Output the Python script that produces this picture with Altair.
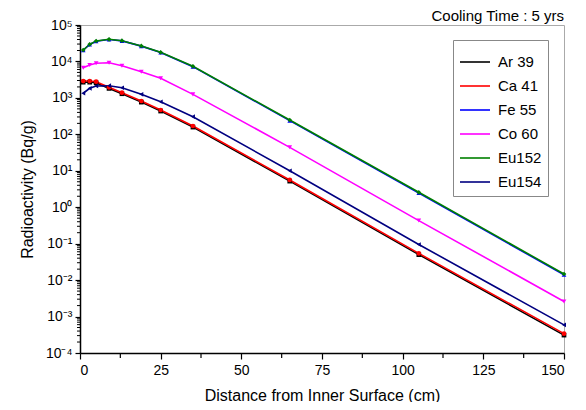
import altair as alt
import pandas as pd

distance = [1, 3, 5, 9, 13, 19, 25, 35, 65, 105, 150]
series_names = ["Ar 39", "Ca 41", "Fe 55", "Co 60", "Eu152", "Eu154"]
ar39 = [2700, 2700, 2600, 1820, 1300, 765, 435, 158, 5.2, 0.050, 0.00031]
ca41 = [2900, 2900, 2780, 1950, 1390, 820, 465, 169, 5.6, 0.054, 0.00034]
fe55 = [20300, 29200, 36000, 40000, 36700, 26300, 17500, 7200, 238, 2.45, 0.0140]
co60 = [6730, 7980, 8890, 9230, 7640, 5220, 3440, 1250, 44, 0.43, 0.0026]
eu152 = [20600, 29500, 36400, 40500, 37100, 26600, 17800, 7360, 247, 2.57, 0.0147]
eu154 = [1340, 1830, 2120, 2160, 1900, 1250, 785, 305, 10, 0.095, 0.00059]
colors = ["#000000", "#ff0000", "#0000ff", "#ff00ff", "#008000", "#000080"]
shapes = ["square", "circle", "triangle-up", "triangle-down", "diamond", "triangle-left"]

x_major = [0, 25, 50, 75, 100, 125, 150]
x_minor = [12.5, 37.5, 62.5, 87.5, 112.5, 137.5]
y_major = [1e-4, 1e-3, 1e-2, 1e-1, 1e0, 1e1, 1e2, 1e3, 1e4, 1e5]
y_minor = [m * 10.0 ** k for k in range(-4, 5) for m in range(2, 10)]

rows = []
for name, vals in zip(series_names, [ar39, ca41, fe55, co60, eu152, eu154]):
    for i, (d, v) in enumerate(zip(distance, vals)):
        rows.append({"series": name, "distance": d, "value": v, "idx": i})
df = pd.DataFrame(rows)

FONT = "Liberation Sans"
xscale = alt.Scale(domain=[0, 150], nice=False, zero=False)
yscale = alt.Scale(type="log", domain=[1e-4, 1e5], nice=False)
cscale = alt.Scale(domain=series_names, range=colors)

sup = "['\u207b\u2074','\u207b\u00b3','\u207b\u00b2','\u207b\u00b9','\u2070','\u00b9','\u00b2','\u00b3','\u2074','\u2075'][round(log(datum.value)/LN10)+4]"

base = alt.Chart(df)
lines = base.mark_line(strokeWidth=1.6).encode(
    x=alt.X("distance:Q", scale=xscale,
            axis=alt.Axis(title="Distance from Inner Surface (cm)", values=x_major,
                          grid=False, tickSize=6, tickWidth=1.2, labelPadding=4, titlePadding=10,
                          domainColor="#000000", tickColor="#000000", domainWidth=1.5)),
    y=alt.Y("value:Q", scale=yscale,
            axis=alt.Axis(title="Radioactivity (Bq/g)", values=y_major, grid=False,
                          tickSize=5, tickWidth=1.2, labelExpr="'10' + " + sup,
                          titlePadding=10, labelPadding=3,
                          domainColor="#000000", tickColor="#000000", domainWidth=1.5)),
    color=alt.Color("series:N", scale=cscale,
                    legend=alt.Legend(title=None, orient="none", legendX=373, legendY=15,
                                      symbolType="stroke", symbolStrokeWidth=1.6,
                                      symbolSize=900, labelFontSize=15, labelFont=FONT,
                                      labelColor="#000000", strokeColor="#888888",
                                      fillColor="#ffffff", padding=6, rowPadding=-4,
                                      labelOffset=7)),
    order="idx:Q",
)

point_layers = []
for name, col, shp in zip(series_names, colors, shapes):
    point_layers.append(
        base.transform_filter(alt.datum.series == name)
        .mark_point(filled=True, size=22, opacity=1, shape=shp, color=col)
        .encode(x=alt.X("distance:Q", scale=xscale), y=alt.Y("value:Q", scale=yscale))
    )

ytick_df = pd.DataFrame({"value": y_minor})
xtick_df = pd.DataFrame({"distance": x_minor})
y_minor_ticks = alt.Chart(ytick_df).mark_tick(color="#000000", orient="horizontal",
                                              size=3, thickness=1, opacity=1,
                                              clip=False).encode(
    y=alt.Y("value:Q", scale=yscale), x=alt.value(-1.5))
x_minor_ticks = alt.Chart(xtick_df).mark_tick(color="#000000", orient="vertical",
                                              size=5, thickness=1.2, opacity=1,
                                              clip=False).encode(
    x=alt.X("distance:Q", scale=xscale), y=alt.value(330.5))

chart = alt.layer(lines, *point_layers, y_minor_ticks, x_minor_ticks).properties(
    width=484, height=328,
    title=alt.TitleParams("Cooling Time : 5 yrs", anchor="end", frame="group", fontSize=15,
                          font=FONT, fontWeight="normal", offset=-6, color="#000000"),
    autosize=alt.AutoSizeParams(type="none"),
    padding={"left": 72, "top": 17, "right": 14, "bottom": 49},
).configure_view(stroke="#aaaaaa", strokeWidth=1).configure_axis(
    labelFont=FONT, titleFont=FONT, labelFontSize=14, titleFontSize=16,
    titleFontWeight="normal", labelColor="#000000", titleColor="#000000"
)

chart.save("out.html", embed_options={"renderer": "svg", "actions": False})
